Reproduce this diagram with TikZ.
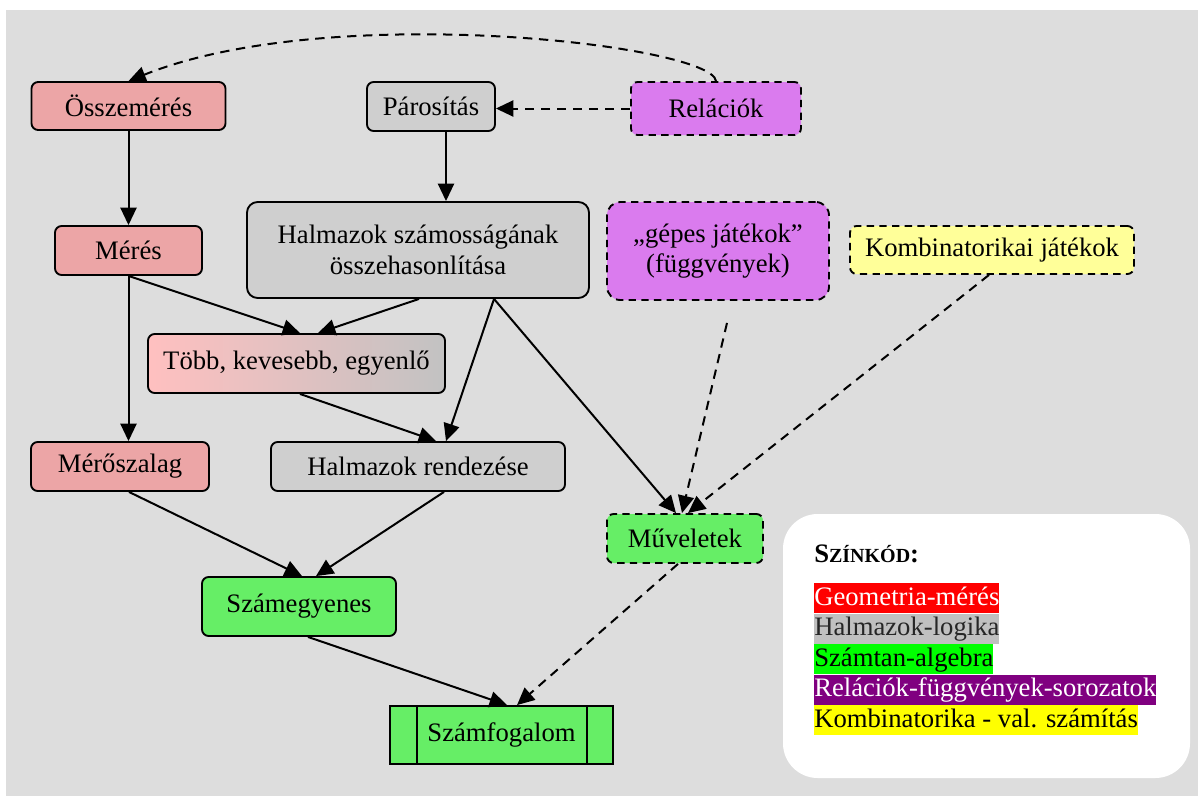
\documentclass[tikz,border=0pt]{standalone}
\usepackage{fontspec}
\setmainfont{Liberation Serif}
\usetikzlibrary{positioning,calc,arrows.meta}

\definecolor{bggray}{HTML}{DDDDDD}
\definecolor{boxpink}{HTML}{ECA5A6}
\definecolor{boxgray}{HTML}{CFCFCF}
\definecolor{boxpurple}{HTML}{DA7BEE}
\definecolor{boxyellow}{HTML}{FFFF99}
\definecolor{boxgreen}{HTML}{66EE66}
\definecolor{tobbpink}{HTML}{FFC0C0}
\definecolor{tobbgray}{HTML}{C2C2C2}
\definecolor{legred}{HTML}{FF0000}
\definecolor{leggray}{HTML}{C0C0C0}
\definecolor{leggreen}{HTML}{00FF00}
\definecolor{legpurple}{HTML}{800080}
\definecolor{legyellow}{HTML}{FFFF00}

\begin{document}
\begin{tikzpicture}[
     x=0.75pt, y=-0.75pt,
     % define styles
     box/.style={
         draw, line width=1.4pt, rounded corners=5pt,
         align=center, inner sep=2pt,
         font=\fontsize{20}{23}\selectfont
     },
     pinkbox/.style={box, fill=boxpink},
     graybox/.style={box, fill=boxgray},
     greenbox/.style={box, fill=boxgreen},
     purplebox/.style={box, fill=boxpurple},
     yellowbox/.style={box, fill=boxyellow},
     dashbox/.style={dash pattern=on 5.5pt off 4pt},
     link/.style={->, line width=1.5pt},
     dlink/.style={link, dash pattern=on 7pt off 5pt},
     keyentry/.style={
         anchor=west, inner sep=0pt,
         text height=16.5pt, text depth=6pt,
         font=\fontsize{20}{23}\selectfont
     },
     >={Triangle[length=13pt,width=12pt]}
]
% background
\useasboundingbox (0,0) rectangle (1198,796);
\fill[white] (0,0) rectangle (1198,796);
\fill[bggray] (6,10) rectangle (1198,796);

% top row
\node[pinkbox, minimum width=145.5pt, minimum height=36pt] (oss) at (128.5,106) {Összemérés};
\node[graybox, minimum width=96pt, minimum height=36.75pt] (par) at (431,106.5) {Párosítás};
\node[purplebox, dashbox, minimum width=127.5pt, minimum height=39.75pt] (rel) at (716,108.5) {Relációk};

% second row
\node[pinkbox, minimum width=110.25pt, minimum height=36.75pt] (mer) at (128.5,250.5) {Mérés};
\node[graybox, rounded corners=8pt, minimum width=256.5pt, minimum height=72pt] (hszam) at (418,250) {Halmazok számosságának\\összehasonlítása};
\node[purplebox, dashbox, rounded corners=10pt, minimum width=166.5pt, minimum height=73.5pt] (gepes) at (718,251) {„gépes játékok”\\(függvények)};
\node[yellowbox, dashbox, minimum width=213pt, minimum height=36pt] (komb) at (992,250) {Kombinatorikai játékok};

% middle
\node[box, left color=tobbpink, right color=tobbgray, minimum width=222.75pt, minimum height=44.25pt] (tobb) at (296.5,363.5) {Több, kevesebb, egyenlő};
\node[pinkbox, minimum width=133.5pt, minimum height=36.75pt] (mszal) at (120,466.5) {Mérőszalag};
\node[graybox, minimum width=220.5pt, minimum height=36.75pt] (hrend) at (418,466.5) {Halmazok rendezése};
\node[greenbox, dashbox, minimum width=117pt, minimum height=36.75pt] (muv) at (685,538.5) {Műveletek};

% bottom
\node[greenbox, minimum width=145.5pt, minimum height=44.25pt] (szegy) at (299,606.5) {Számegyenes};
\node[greenbox, sharp corners, minimum width=167.25pt, minimum height=43.5pt] (szfog) at (501.5,735) {Számfogalom};
\draw[line width=1.4pt] ($(szfog.north west)+(28,0)$) -- ($(szfog.south west)+(28,0)$);
\draw[line width=1.4pt] ($(szfog.north east)+(-27,0)$) -- ($(szfog.south east)+(-27,0)$);

% solid connectors
\draw[link] (oss) -- (mer);
\draw[link] ($(par.south)+(15,0)$) -- ($(hszam.north)+(28,0)$);
\draw[link] (mer.south) -- (mer.south |- mszal.north);
\draw[link] (mer.south) -- ($(tobb.north)+(3.5,0)$);
\draw[link] ($(hszam.south)+(1,0)$) -- ($(tobb.north)+(21.5,0)$);
\draw[link] ($(hszam.south)+(76,0)$) -- ($(hrend.north)+(28,0)$);
\draw[link] ($(hszam.south)+(76,0)$) -- ($(muv.north)+(-9,0)$);
\draw[link] ($(tobb.south)+(3.5,0)$) -- ($(hrend.north)+(18,0)$);
\draw[link] ($(mszal.south)+(9,0)$) -- ($(szegy.north)+(3,0)$);
\draw[link] ($(hrend.south)+(26,0)$) -- ($(szegy.north)+(17,0)$);
\draw[link] ($(szegy.south)+(9,0)$) -- ($(szfog.north)+(5.5,0)$);

% dashed connectors
\draw[dlink] (rel.north) .. controls (712,45) and (330,0) .. (oss.north);
\draw[dlink] (rel.west) -- (par.east |- rel.west);
\draw[dlink] ($(gepes.south)+(9,22)$) -- ($(muv.north)+(-3,0)$);
\draw[dlink] ($(komb.south)+(-3,0)$) -- ($(muv.north)+(3,0)$);
\draw[dlink] ($(muv.south)+(-7,0)$) -- ($(szfog.north)+(15.5,0)$);

% colour key
\node[fill=white, rounded corners=26pt, minimum width=305.25pt, minimum height=198pt] (legend) at (986.5,646) {};
\node[anchor=base west, inner sep=0pt, font=\fontsize{20}{23}\selectfont\bfseries] (keytitle) at (814,562) {S{\fontsize{15}{15}\selectfont ZÍNKÓD}:};
\foreach \txt/\bgcol/\fgcol [count=\i from 0] in {
    Geometria-mérés/legred/white,
    Halmazok-logika/leggray/black!85,
    Számtan-algebra/leggreen/black,
    Relációk-függvények-sorozatok/legpurple/white,
    Kombinatorika - val. számítás/legyellow/black}
  \node[keyentry, fill=\bgcol, text=\fgcol] (key\i) at (814,598+30.5*\i) {\txt};
\end{tikzpicture}
\end{document}
